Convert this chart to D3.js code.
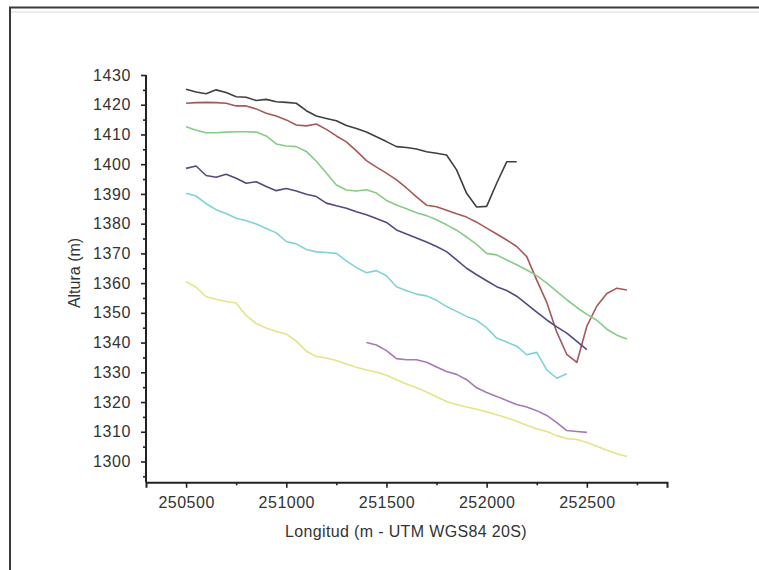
<!DOCTYPE html>
<html>
<head>
<meta charset="utf-8">
<script src="https://cdn.jsdelivr.net/npm/d3@7"></script>
<style>
  html, body { margin: 0; padding: 0; background: #fff; }
  svg { display: block; }
  text { font-family: "Liberation Sans", Arial, sans-serif; fill: #333; }
</style>
</head>
<body>
<svg id="chart" width="759" height="570"></svg>
<script>
// Elevation profiles along longitude (UTM WGS84 20S), sampled every 50 m
const xTicks = [250500, 251000, 251500, 252000, 252500];
const yTicks = [1300, 1310, 1320, 1330, 1340, 1350, 1360, 1370, 1380, 1390, 1400, 1410, 1420, 1430];

const xBlack = d3.range(250500, 252151, 50);
const yBlack = [1425.2, 1424.3, 1423.7, 1425.0, 1424.1, 1422.7, 1422.5, 1421.4, 1421.8, 1421.0,
  1420.8, 1420.5, 1418.0, 1416.2, 1415.4, 1414.6, 1413.0, 1412.0, 1410.8, 1409.2,
  1407.6, 1405.9, 1405.6, 1405.1, 1404.2, 1403.7, 1403.1, 1398.1, 1390.2, 1385.6,
  1385.8, 1393.6, 1400.8, 1400.8];

const xRed = d3.range(250500, 252701, 50);
const yRed = [1420.5, 1420.7, 1420.8, 1420.7, 1420.5, 1419.6, 1419.6, 1418.6, 1417.1, 1416.2,
  1414.9, 1413.2, 1412.9, 1413.5, 1411.7, 1409.5, 1407.5, 1404.5, 1401.2, 1399.0,
  1397.0, 1394.7, 1392.0, 1389.0, 1386.2, 1385.7, 1384.5, 1383.3, 1382.2, 1380.5,
  1378.5, 1376.5, 1374.5, 1372.3, 1368.9, 1361.0, 1353.5, 1343.5, 1336.0, 1333.3,
  1345.5, 1352.3, 1356.5, 1358.3, 1357.7];

const xGreen = d3.range(250500, 252701, 50);
const yGreen = [1412.6, 1411.4, 1410.6, 1410.6, 1410.8, 1410.9, 1410.9, 1410.8, 1409.5, 1406.8,
  1406.1, 1405.9, 1404.3, 1401.0, 1397.0, 1393.0, 1391.3, 1391.0, 1391.4, 1390.3,
  1387.8, 1386.3, 1385.0, 1383.7, 1382.7, 1381.3, 1379.6, 1377.8, 1375.5, 1373.0,
  1370.0, 1369.5, 1367.8, 1366.2, 1364.4, 1362.5, 1360.0, 1357.2, 1354.4, 1351.8,
  1349.5, 1347.5, 1344.5, 1342.5, 1341.2];

const xBlue = d3.range(250500, 252501, 50);
const yBlue = [1398.6, 1399.4, 1396.2, 1395.6, 1396.6, 1395.3, 1393.6, 1394.1, 1392.5, 1391.1,
  1391.8, 1391.0, 1389.9, 1389.1, 1386.9, 1386.0, 1385.2, 1384.0, 1383.0, 1381.7,
  1380.4, 1377.9, 1376.5, 1375.2, 1373.8, 1372.3, 1370.6, 1367.8, 1365.0, 1362.8,
  1360.8, 1358.8, 1357.5, 1355.6, 1352.9, 1350.2, 1347.6, 1345.3, 1343.2, 1340.4,
  1337.6];

const xCyan = d3.range(250500, 252401, 50);
const yCyan = [1390.2, 1389.3, 1386.7, 1384.7, 1383.4, 1381.8, 1381.0, 1379.9, 1378.4, 1376.9,
  1374.0, 1373.2, 1371.3, 1370.5, 1370.3, 1370.0, 1367.5, 1365.2, 1363.5, 1364.2,
  1362.5, 1358.8, 1357.4, 1356.3, 1355.7, 1354.2, 1352.1, 1350.5, 1348.8, 1347.5,
  1345.0, 1341.5, 1340.2, 1338.8, 1335.9, 1336.7, 1330.8, 1328.0, 1329.5];

const xMagenta = d3.range(251400, 252501, 50);
const yMagenta = [1340.0, 1339.2, 1337.3, 1334.6, 1334.2, 1334.2, 1333.4, 1331.8, 1330.3, 1329.3,
  1327.5, 1324.8, 1323.2, 1321.9, 1320.5, 1319.2, 1318.3, 1317.1, 1315.5, 1313.1,
  1310.4, 1310.1, 1309.8];

const xYellow = d3.range(250500, 252701, 50);
const yYellow = [1360.5, 1358.6, 1355.4, 1354.6, 1353.8, 1353.3, 1349.1, 1346.4, 1344.9, 1343.7,
  1342.9, 1340.5, 1337.1, 1335.3, 1334.8, 1334.0, 1332.8, 1331.7, 1330.8, 1330.1,
  1329.0, 1327.5, 1326.1, 1324.8, 1323.4, 1321.8, 1320.2, 1319.2, 1318.3, 1317.6,
  1316.7, 1315.7, 1314.7, 1313.5, 1312.2, 1311.0, 1310.1, 1308.7, 1307.7, 1307.4,
  1306.4, 1305.1, 1303.8, 1302.6, 1301.7];

const series = [
  { xs: xBlack,   ys: yBlack,   color: "#3f3f3f" },
  { xs: xRed,     ys: yRed,     color: "#a65858" },
  { xs: xGreen,   ys: yGreen,   color: "#86cc86" },
  { xs: xBlue,    ys: yBlue,    color: "#4e4c82" },
  { xs: xCyan,    ys: yCyan,    color: "#80d2d6" },
  { xs: xMagenta, ys: yMagenta, color: "#a47ab4" },
  { xs: xYellow,  ys: yYellow,  color: "#e4e488" }
];

const svg = d3.select("#chart");

// outer frame (open to the right and bottom)
svg.append("rect")
  .attr("x", 10).attr("y", 7.5)
  .attr("width", 800).attr("height", 600)
  .attr("fill", "none").attr("stroke", "#3a3a3a").attr("stroke-width", 2);
svg.append("line")
  .attr("x1", 11).attr("x2", 759).attr("y1", 12).attr("y2", 12)
  .attr("stroke", "#ececec").attr("stroke-width", 2);

const x = d3.scaleLinear().domain([250300, 252900]).range([146, 667]);
const y = d3.scaleLinear().domain([1293, 1430]).range([482.3, 75]);

// data lines
const line = d3.line().x(d => x(d[0])).y(d => y(d[1]));
svg.append("g").selectAll("path")
  .data(series)
  .join("path")
  .attr("d", s => line(s.xs.map((v, i) => [v, s.ys[i]])))
  .attr("fill", "none")
  .attr("stroke", s => s.color)
  .attr("stroke-width", 1.6)
  .attr("stroke-linejoin", "round");

// minor ticks
const xMinor = d3.range(250250, 252901, 250).filter(v => v >= 250300 && !xTicks.includes(v));
const yMinor = d3.range(1295, 1430, 10);

const xAxisG = svg.append("g").attr("transform", "translate(0,482.3)");
xAxisG.call(d3.axisBottom(x).tickValues(xMinor).tickSize(3).tickFormat(""));
xAxisG.select(".domain").remove();
xAxisG.selectAll(".tick line").attr("stroke-width", 1.6).attr("stroke", "#222");
const xMajor = svg.append("g").attr("transform", "translate(0,482.3)")
  .call(d3.axisBottom(x).tickValues(xTicks).tickSize(5.5).tickPadding(9).tickFormat(d3.format("d")));
xMajor.select(".domain").attr("stroke", "#222").attr("stroke-width", 2);
xMajor.selectAll(".tick line").attr("stroke", "#222").attr("stroke-width", 1.6);
xMajor.selectAll(".tick text").attr("font-size", 16).attr("fill", "#333")
  .attr("letter-spacing", "0.5px")
  .attr("font-family", "Liberation Sans, Arial, sans-serif");

const yAxisG = svg.append("g").attr("transform", "translate(146,0)");
yAxisG.call(d3.axisLeft(y).tickValues(yMinor).tickSize(3).tickFormat(""));
yAxisG.select(".domain").remove();
yAxisG.selectAll(".tick line").attr("stroke", "#222").attr("stroke-width", 1.6);
const yMajor = svg.append("g").attr("transform", "translate(146,0)")
  .call(d3.axisLeft(y).tickValues(yTicks).tickSize(5).tickPadding(10).tickFormat(d3.format("d")));
yMajor.select(".domain").attr("stroke", "#222").attr("stroke-width", 2)
  .attr("d", `M0,${y(1430)}V482.3`);
yMajor.selectAll(".tick line").attr("stroke", "#222").attr("stroke-width", 1.6);
yMajor.selectAll(".tick text").attr("font-size", 16).attr("fill", "#333")
  .attr("letter-spacing", "0.6px")
  .attr("font-family", "Liberation Sans, Arial, sans-serif");

// axis titles
svg.append("text")
  .attr("x", 406).attr("y", 536.5)
  .attr("text-anchor", "middle")
  .attr("font-size", 16)
  .attr("letter-spacing", "0.35px")
  .text("Longitud (m - UTM WGS84 20S)");
svg.append("text")
  .attr("transform", "translate(80,273) rotate(-90)")
  .attr("text-anchor", "middle")
  .attr("font-size", 16)
  .text("Altura (m)");
</script>
</body>
</html>
